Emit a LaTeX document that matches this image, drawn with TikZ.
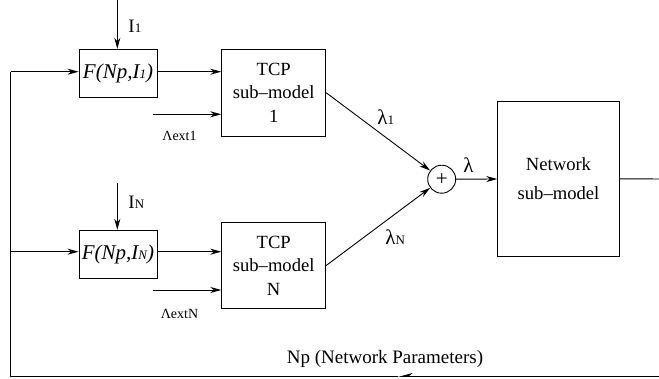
\documentclass[tikz,border=0pt]{standalone}
\usepackage{fontspec}
\setmainfont{Liberation Serif}
\usetikzlibrary{arrows.meta,calc}
\begin{document}
\begin{tikzpicture}[x=1pt,y=-1pt,line width=0.9pt,
  box/.style={draw,rectangle,inner sep=0pt,align=center},
  arr/.style={-{Stealth[length=11pt,width=6pt]}},
  halfarr/.style={-{Stealth[length=13pt,width=7pt,right]}},
  big/.style={font=\fontsize{18.6}{23.5}\selectfont},
  fbox/.style={box,minimum width=78pt,minimum height=48.5pt,font=\fontsize{21}{24}\selectfont\itshape},
  tcpbox/.style={box,big,minimum width=104pt,minimum height=86.5pt},
  small/.style={font=\fontsize{14}{16}\selectfont,inner sep=0pt},
  lab/.style={font=\fontsize{19}{20}\selectfont,inner sep=0pt},
  glab/.style={font=\fontsize{21}{22}\selectfont,inner sep=0pt},
]
\newcommand{\sbs}[1]{{\fontsize{13}{14}\selectfont #1}}
\useasboundingbox (0,0) rectangle (659,378);
\clip (0,0) rectangle (659,378);

% blocks
\node[fbox] (f1) at (118,73.5) {F(Np,I\sbs{1})};
\node[fbox] (fN) at (118,254.5) {F(Np,I\sbs{N})};
\node[tcpbox] (t1) at (273.7,92.7) {TCP\\sub--model\\1};
\node[tcpbox] (tN) at (273.7,265.5) {TCP\\sub--model\\N};
\node[draw,circle,minimum size=28pt,inner sep=0pt,font=\fontsize{21}{21}\selectfont] (sum) at (441.7,179.2) {+};
\node[box,font=\fontsize{18.6}{29}\selectfont,minimum width=121.6pt,minimum height=154.3pt] (net) at (558.5,178.8) {Network\\sub--model};

% labels
\node[lab,anchor=base west] (li1) at (128,32) {I\sbs{1}};
\node[lab,anchor=base west] (liN) at (128,208) {I\sbs{N}};
\node[small,anchor=base] (le1) at (179.5,140) {Λext1};
\node[small,anchor=base] (leN) at (179.5,318) {ΛextN};
\node[glab,anchor=base west] (ll1) at (377,124) {λ\sbs{1}};
\node[glab,anchor=base west] (llN) at (385,244) {λ\sbs{N}};
\node[glab,anchor=base west] (ll) at (463,172) {λ};
\node[lab,anchor=base] (lnp) at (385,363) {Np (Network Parameters)};

% coordinates
\coordinate (i1) at (117.3,0);
\coordinate (iN) at (117.3,183);
\coordinate (e1) at (152.7,114.3);
\coordinate (eN) at (152.7,290);
\coordinate (r1) at (665,179);
\coordinate (r2) at (665,376.5);
\coordinate (mid) at (398,376.5);
\coordinate (bl) at (10.5,376.5);
\coordinate (tl) at (10.5,71.7);
\coordinate (ml) at (10.5,251.7);

% connectors
\draw[arr] (i1) -- (i1 |- f1.north);
\draw[arr] (iN) -- (iN |- fN.north);
\draw[arr] (tl) -- (tl -| f1.west);
\draw[arr] (ml) -- (ml -| fN.west);
\draw[arr] (tl -| f1.east) -- (tl -| t1.west);
\draw[arr] (ml -| fN.east) -- (ml -| tN.west);
\draw[arr] (e1) -- (e1 -| t1.west);
\draw[arr] (eN) -- (eN -| tN.west);
\draw[arr] (t1.east) -- (sum);
\draw[arr] (tN.east) -- (sum);
\draw[arr] (sum) -- (net);
\draw (net.east) -- (r1) -- (r2);
\draw[halfarr] (r2) -- (mid);
\draw (mid) -- (bl) -- (tl);
\end{tikzpicture}
\end{document}
